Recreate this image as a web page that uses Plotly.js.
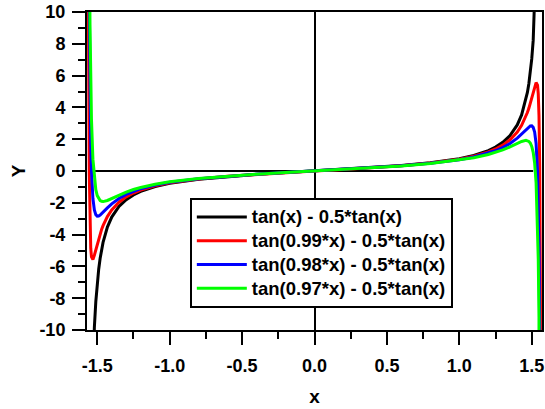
<!DOCTYPE html>
<html>
<head>
<meta charset="utf-8">
<script src="https://cdn.plot.ly/plotly-3.0.1.min.js"></script>
<style>html,body{margin:0;padding:0;background:#fff;}#chart{width:545px;height:409px;}</style>
</head>
<body>
<div id="chart"></div>
<script>
const xVals = [-1.57, -1.565, -1.56, -1.555, -1.55, -1.545, -1.54, -1.53, -1.52, -1.51, -1.50, -1.49, -1.48, -1.47, -1.46, -1.43, -1.4, -1.35, -1.3, -1.25, -1.2, -1.1, -1.0, -0.8, -0.6, -0.4, -0.2,
  0, 0.2, 0.4, 0.6, 0.8, 1.0, 1.1, 1.2, 1.25, 1.3, 1.35, 1.4, 1.43, 1.46, 1.47, 1.48, 1.49, 1.50, 1.51, 1.52, 1.53, 1.54, 1.545, 1.55, 1.555, 1.56, 1.565, 1.57];

const yTan100 = [-627.9, -86.27, -46.31, -31.65, -24.04, -19.38, -16.23, -12.25, -9.835, -8.214, -7.051, -6.175, -5.492, -4.944, -4.494, -3.528, -2.899, -2.228, -1.801, -1.505, -1.286, -0.982, -0.779, -0.515, -0.342, -0.211, -0.101,
  0, 0.101, 0.211, 0.342, 0.515, 0.779, 0.982, 1.286, 1.505, 1.801, 2.228, 2.899, 3.528, 4.494, 4.944, 5.492, 6.175, 7.051, 8.214, 9.835, 12.25, 16.23, 19.38, 24.04, 31.65, 46.31, 86.27, 627.9];

const yTan099 = [567, 39.6, 8.44, -0.241, -3.500, -4.853, -5.401, -5.559, -5.296, -4.937, -4.576, -4.243, -3.943, -3.676, -3.439, -2.868, -2.451, -1.962, -1.628, -1.384, -1.198, -0.930, -0.745, -0.498, -0.333, -0.207, -0.099,
  0, 0.099, 0.207, 0.333, 0.498, 0.745, 0.930, 1.198, 1.384, 1.628, 1.962, 2.451, 2.868, 3.439, 3.676, 3.943, 4.243, 4.576, 4.937, 5.296, 5.559, 5.401, 4.853, 3.500, 0.241, -8.44, -39.6, -567];

const yTan098 = [597, 59.3, 22.5, 10.34, 4.750, 1.760, 0.016, -1.733, -2.454, -2.745, -2.837, -2.830, -2.774, -2.694, -2.602, -2.319, -2.065, -1.725, -1.469, -1.271, -1.114, -0.880, -0.712, -0.482, -0.325, -0.202, -0.097,
  0, 0.097, 0.202, 0.325, 0.482, 0.712, 0.880, 1.114, 1.271, 1.469, 1.725, 2.065, 2.319, 2.602, 2.694, 2.774, 2.830, 2.837, 2.745, 2.454, 1.733, -0.016, -1.760, -4.750, -10.34, -22.5, -59.3, -597];

const yTan097 = [607, 67.3, 28.97, 15.66, 9.202, 5.542, 3.269, 0.744, -0.507, -1.176, -1.547, -1.752, -1.860, -1.909, -1.923, -1.855, -1.729, -1.512, -1.323, -1.166, -1.035, -0.832, -0.681, -0.467, -0.316, -0.197, -0.095,
  0, 0.095, 0.197, 0.316, 0.467, 0.681, 0.832, 1.035, 1.166, 1.323, 1.512, 1.729, 1.855, 1.923, 1.909, 1.860, 1.752, 1.547, 1.176, 0.507, -0.744, -3.269, -5.542, -9.202, -15.66, -28.97, -67.3, -607];

const seriesNames = ['tan(x) - 0.5*tan(x)', 'tan(0.99*x) - 0.5*tan(x)', 'tan(0.98*x) - 0.5*tan(x)', 'tan(0.97*x) - 0.5*tan(x)'];
const seriesColors = ['#000000', '#ff0000', '#0000ff', '#00ff00'];

const baselineX = [-1.52, 1.51];
const baselineY = [0, 0];

const xTickVals = [-1.5, -1.0, -0.5, 0.0, 0.5, 1.0, 1.5];
const xTickText = ['-1.5', '-1.0', '-0.5', '0.0', '0.5', '1.0', '1.5'];
const yTickVals = [-10, -8, -6, -4, -2, 0, 2, 4, 6, 8, 10];
const yTickText = ['-10', '-8', '-6', '-4', '-2', '0', '2', '4', '6', '8', '10'];

const xRange = [-1.5708, 1.5708];
const yRange = [-10, 10];

const fam = 'Liberation Sans, Arial, sans-serif';
const tickFont = {family: fam, size: 18, color: '#000', weight: 'bold'};
const titleFont = {family: fam, size: 19, color: '#000', weight: 'bold'};
const ys = [yTan100, yTan099, yTan098, yTan097];

const traces = [{
  x: baselineX, y: baselineY, mode: 'lines', showlegend: false, hoverinfo: 'skip',
  line: {color: '#000', width: 2}
}];
ys.forEach((y, i) => traces.push({
  x: xVals, y: y, mode: 'lines',
  name: '<span style="font-size:18.5px">' + seriesNames[i] + '</span>',
  line: {color: seriesColors[i], width: 3}
}));

const layout = {
  width: 545, height: 409,
  margin: {l: 87, r: 3, t: 12, b: 79, pad: 0},
  paper_bgcolor: '#fff', plot_bgcolor: '#fff',
  font: tickFont,
  showlegend: true,
  legend: {
    x: 0.226, y: 0.415, xanchor: 'left', yanchor: 'top',
    bgcolor: '#fff', bordercolor: '#000', borderwidth: 2,
    font: {family: fam, size: 16, color: '#000', weight: 'bold'},
    itemwidth: 50, tracegroupgap: 0
  },
  xaxis: {
    range: xRange, tickvals: xTickVals, ticktext: xTickText,
    ticks: 'outside', ticklen: 13, tickwidth: 2, tickcolor: '#000',
    minor: {dtick: 0.25, tick0: 0, ticks: 'outside', ticklen: 7, tickwidth: 2, tickcolor: '#000', showgrid: false},
    showline: true, linecolor: '#000', linewidth: 2, mirror: true,
    showgrid: false, zeroline: true, zerolinecolor: '#000', zerolinewidth: 2,
    tickfont: tickFont, ticklabelstandoff: 5,
    title: {text: 'x', font: titleFont, standoff: 15}
  },
  xaxis2: {
    overlaying: 'x', side: 'top', range: xRange, tickvals: xTickVals,
    ticks: 'inside', ticklen: 13, tickwidth: 2, tickcolor: '#000',
    minor: {dtick: 0.25, tick0: 0, ticks: 'inside', ticklen: 7, tickwidth: 2, tickcolor: '#000', showgrid: false},
    showticklabels: false, showline: false, showgrid: false, zeroline: false
  },
  yaxis: {
    range: yRange, tickvals: yTickVals, ticktext: yTickText,
    ticks: 'outside', ticklen: 13, tickwidth: 2, tickcolor: '#000',
    minor: {dtick: 1, tick0: 0, ticks: 'outside', ticklen: 7, tickwidth: 2, tickcolor: '#000', showgrid: false},
    showline: true, linecolor: '#000', linewidth: 2, mirror: true,
    showgrid: false, zeroline: false,
    tickfont: tickFont, ticklabelstandoff: 3,
    title: {text: 'Y', font: titleFont, standoff: 9}
  }
};

Plotly.newPlot('chart', traces, layout, {displayModeBar: false, staticPlot: true});
</script>
</body>
</html>
